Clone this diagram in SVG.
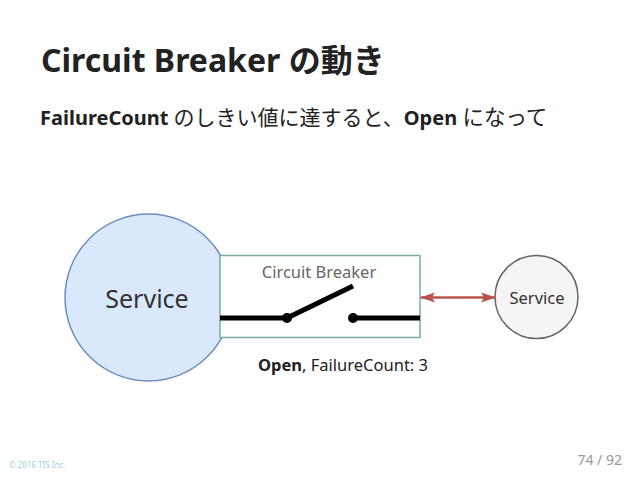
<svg xmlns="http://www.w3.org/2000/svg" width="638" height="479" viewBox="0 0 638 479">
<defs>
<style>
.t{font-family:"Source Sans Pro","Noto Sans","Noto Sans CJK JP",sans-serif}
.b{font-weight:bold}
.sw{stroke:#000;stroke-width:5;fill:none}
</style>
<marker id="ah" viewBox="0 0 15 10" refX="14" refY="5" markerWidth="6" markerHeight="4" orient="auto-start-reverse">
<path d="M0,0 L15,5 L0,10 L3,5 z" fill="#b85450"/>
</marker>
</defs>
<rect width="638" height="479" fill="#fff"/>
<text class="t b" x="41" y="72" font-size="32" fill="#222">Circuit Breaker の動き</text>
<text class="t" x="40" y="125" font-size="20" fill="#222"><tspan font-weight="bold">FailureCount</tspan> <tspan font-size="21">のしきい値に達すると、</tspan><tspan font-weight="bold">Open</tspan> <tspan font-size="21.5">になって</tspan></text>
<g id="service-main">
<circle cx="148.5" cy="297.5" r="83.5" fill="#dae8fc" stroke="#6c8ebf" stroke-width="1.5"/>
<text class="t" x="147" y="308" font-size="25" fill="#333" text-anchor="middle">Service</text>
</g>
<g id="circuit-breaker">
<rect x="220" y="255.5" width="200" height="82" fill="#fff" stroke="#7aaba2" stroke-width="1.5"/>
<text class="t" x="319" y="278" font-size="16.5" fill="#666" text-anchor="middle">Circuit Breaker</text>
<line class="sw" x1="220" y1="318" x2="287" y2="318"/>
<line class="sw" x1="287" y1="318" x2="353" y2="286"/>
<line class="sw" x1="353" y1="318" x2="420" y2="318"/>
<circle cx="287" cy="318" r="5" fill="#000"/>
<circle cx="353" cy="318" r="5" fill="#000"/>
</g>
<g id="service-remote">
<circle cx="536.5" cy="297" r="41.5" fill="#f5f5f5" stroke="#666" stroke-width="1.5"/>
<text class="t" x="537" y="304" font-size="16.5" fill="#333" text-anchor="middle">Service</text>
</g>
<g id="connectors">
<line x1="421" y1="297.5" x2="495" y2="297.5" stroke="#b85450" stroke-width="2.5" marker-start="url(#ah)" marker-end="url(#ah)"/>
</g>
<text class="t" x="258" y="371" font-size="16.5" fill="#222"><tspan font-weight="bold">Open</tspan>, FailureCount: 3</text>
<text class="t" x="9" y="468" font-size="8" fill="#9fd0e0">© 2016 TIS Inc.</text>
<text class="t" x="622" y="465" font-size="14" fill="#999" text-anchor="end">74 / 92</text>
</svg>
